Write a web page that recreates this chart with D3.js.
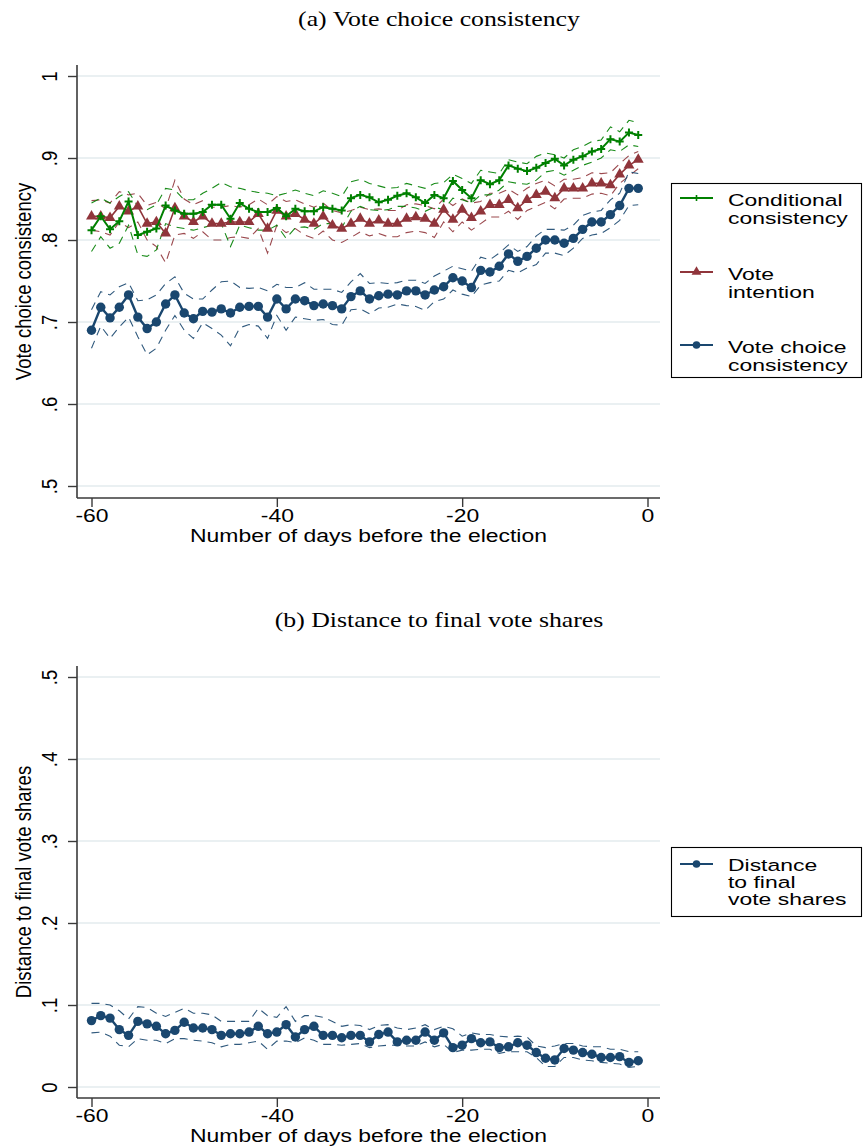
<!DOCTYPE html>
<html><head><meta charset="utf-8">
<script src="https://cdn.jsdelivr.net/npm/d3@7"></script>
<style>body{margin:0;background:#fff} svg{display:block}</style>
</head><body>
<svg id="chart" width="863" height="1148"></svg>
<script>
// ---------- DATA ----------
const days = [-60,-59,-58,-57,-56,-55,-54,-53,-52,-51,-50,-49,-48,-47,-46,-45,-44,-43,-42,-41,
  -40,-39,-38,-37,-36,-35,-34,-33,-32,-31,-30,-29,-28,-27,-26,-25,-24,-23,-22,-21,
  -20,-19,-18,-17,-16,-15,-14,-13,-12,-11,-10,-9,-8,-7,-6,-5,-4,-3,-2,-1];

// Panel (a)
const voteChoice = [.690,.718,.705,.718,.733,.706,.692,.700,.722,.733,.711,.704,.713,.712,.716,.711,.718,.719,.719,.706,
  .728,.716,.728,.726,.720,.722,.720,.716,.731,.738,.728,.732,.734,.733,.738,.738,.733,.739,.743,.754,
  .750,.742,.763,.761,.768,.783,.774,.780,.790,.800,.800,.796,.802,.813,.822,.822,.831,.842,.863,.863];
const voteChoiceLo = [.668,.695,.680,.694,.706,.682,.660,.668,.690,.708,.690,.680,.699,.692,.684,.671,.693,.697,.695,.680,
  .708,.690,.706,.704,.702,.703,.697,.696,.715,.716,.710,.717,.718,.722,.720,.719,.714,.725,.728,.739,
  .734,.731,.745,.748,.750,.763,.760,.766,.770,.784,.784,.781,.790,.802,.806,.808,.815,.824,.842,.843];
const voteChoiceHi = [.715,.737,.733,.743,.748,.726,.727,.733,.747,.755,.735,.728,.728,.739,.749,.750,.742,.741,.742,.738,
  .746,.742,.742,.748,.740,.740,.740,.736,.749,.759,.747,.748,.747,.748,.751,.751,.747,.756,.762,.768,
  .765,.762,.779,.776,.784,.794,.786,.792,.805,.813,.813,.812,.818,.830,.834,.836,.849,.857,.883,.881];

const conditional = [.812,.829,.813,.823,.847,.806,.810,.814,.842,.836,.832,.832,.834,.843,.843,.826,.845,.838,.834,.834,
  .839,.829,.838,.835,.835,.840,.838,.836,.851,.855,.852,.846,.849,.854,.857,.852,.845,.855,.851,.872,
  .861,.851,.873,.868,.873,.891,.887,.884,.888,.894,.899,.891,.898,.902,.908,.911,.923,.920,.931,.928];
const conditionalLo = [.786,.804,.790,.796,.818,.782,.780,.788,.820,.816,.814,.812,.815,.818,.820,.792,.818,.815,.812,.812,
  .818,.802,.815,.816,.813,.820,.820,.815,.835,.841,.837,.836,.837,.841,.841,.839,.835,.840,.837,.851,
  .849,.845,.855,.855,.861,.871,.869,.868,.873,.883,.885,.879,.885,.891,.895,.900,.910,.908,.916,.914];
const conditionalHi = [.845,.851,.845,.853,.859,.841,.837,.843,.863,.861,.849,.849,.857,.863,.870,.865,.863,.860,.858,.857,
  .854,.857,.861,.857,.854,.860,.857,.853,.871,.874,.869,.866,.863,.864,.869,.866,.863,.869,.870,.880,
  .875,.869,.885,.883,.881,.898,.895,.893,.902,.906,.904,.900,.910,.914,.920,.922,.938,.932,.946,.943];

const intention = [.829,.829,.827,.841,.835,.841,.820,.822,.808,.839,.829,.822,.829,.820,.820,.822,.822,.822,.832,.814,
  .836,.829,.832,.825,.820,.829,.818,.814,.820,.826,.820,.824,.820,.820,.826,.828,.826,.820,.837,.825,
  .837,.827,.835,.843,.843,.849,.839,.849,.855,.859,.851,.863,.863,.863,.869,.869,.867,.880,.891,.898];
const intentionLo = [.812,.810,.806,.822,.815,.822,.800,.792,.772,.806,.808,.802,.810,.800,.800,.803,.804,.802,.814,.784,
  .818,.809,.814,.806,.802,.811,.800,.797,.803,.810,.805,.808,.804,.804,.809,.811,.809,.803,.822,.810,
  .822,.812,.820,.828,.828,.835,.825,.836,.841,.846,.838,.850,.851,.851,.856,.857,.854,.869,.878,.887];
const intentionHi = [.848,.849,.845,.859,.855,.857,.842,.846,.838,.873,.850,.843,.848,.840,.840,.842,.840,.843,.850,.843,
  .853,.847,.849,.844,.840,.845,.836,.833,.836,.840,.837,.838,.836,.836,.843,.844,.842,.838,.850,.842,
  .850,.845,.847,.857,.857,.862,.855,.863,.869,.873,.866,.874,.874,.876,.882,.881,.882,.893,.903,.908];

// Panel (b)
const distance = [.081,.087,.084,.070,.063,.080,.077,.074,.065,.069,.079,.072,.072,.070,.063,.065,.065,.067,.074,.065,
  .067,.076,.061,.070,.074,.063,.063,.060,.063,.063,.055,.064,.067,.055,.057,.057,.067,.057,.066,.048,
  .051,.059,.054,.055,.048,.049,.054,.051,.042,.035,.033,.047,.045,.042,.040,.036,.036,.037,.030,.032];
const distanceLo = [.066,.067,.062,.051,.049,.059,.057,.057,.053,.059,.059,.057,.056,.054,.049,.052,.052,.054,.056,.046,
  .056,.056,.054,.060,.057,.052,.052,.051,.052,.053,.048,.050,.051,.051,.050,.050,.055,.049,.052,.042,
  .045,.045,.046,.046,.041,.043,.043,.043,.036,.025,.025,.036,.036,.033,.032,.030,.029,.028,.024,.025];
const distanceHi = [.102,.102,.100,.093,.083,.098,.097,.090,.086,.091,.096,.090,.090,.088,.080,.080,.080,.080,.096,.087,
  .085,.098,.080,.087,.087,.085,.080,.074,.076,.075,.070,.075,.076,.072,.070,.072,.076,.070,.074,.071,
  .062,.066,.064,.064,.062,.061,.062,.061,.050,.048,.050,.053,.053,.050,.049,.049,.046,.046,.043,.043];

const xTicks = [-60,-40,-20,0];
const xTickLabels = ["-60","-40","-20","0"];
const yTicksA = [.5,.6,.7,.8,.9,1];
const yTickLabelsA = [".5",".6",".7",".8",".9","1"];
const yTicksB = [0,.1,.2,.3,.4,.5];
const yTickLabelsB = ["0",".1",".2",".3",".4",".5"];

// ---------- STYLE ----------
const SX = 1.24;
const SANS = "'Liberation Sans', Arial, Helvetica, sans-serif";
const SERIF = "'Liberation Serif', 'Times New Roman', serif";
const FS = 18.5;
const LEG_FS = 16.5, LEG_SX = 1.39;
const C_GREEN = "#008000", C_RED = "#90353b", C_BLUE = "#1a476f";
const AXIS_C = "#3a3a3a";

const svg = d3.select("#chart");

function sText(g, x, y, str, o = {}) {
  const sx = o.sx || SX;
  return g.append("text")
    .attr("transform", `translate(${x},${y}) scale(${sx},1)` + (o.rotate ? " rotate(-90)" : ""))
    .attr("text-anchor", o.anchor || "middle")
    .attr("font-family", o.family || SANS)
    .attr("font-size", o.size || FS)
    .attr("fill", "#000")
    .text(str);
}

function plusPath(s) { return `M${-s},0H${s}M0,${-s}V${s}`; }

function drawMarkers(g, x, y, vals, kind, color) {
  const pts = days.map((d, i) => ({ d, v: vals[i] }));
  if (kind === "circle") {
    g.selectAll(null).data(pts).join("circle")
      .attr("cx", p => x(p.d)).attr("cy", p => y(p.v)).attr("r", 4.7).attr("fill", color);
  } else if (kind === "triangle") {
    const sym = d3.symbol(d3.symbolTriangle, 52);
    g.selectAll(null).data(pts).join("path")
      .attr("d", sym).attr("transform", p => `translate(${x(p.d)},${y(p.v)})`).attr("fill", color);
  } else {
    g.selectAll(null).data(pts).join("path")
      .attr("d", plusPath(4)).attr("transform", p => `translate(${x(p.d)},${y(p.v)})`)
      .attr("stroke", color).attr("stroke-width", 2).attr("fill", "none");
  }
}

function panel(cfg) {
  const g = svg.append("g");
  const x = d3.scaleLinear().domain([-60, 0]).range([91.5, 647.5]);
  const y = d3.scaleLinear().domain(cfg.yDomain).range(cfg.yRange);
  const left = 77, right = 660;

  // title
  sText(g, 439, cfg.titleY, cfg.title, { family: SERIF, size: 21.5, sx: 1.2 });

  // gridlines
  g.selectAll(null).data(cfg.yTicks).join("line")
    .attr("x1", left).attr("x2", right)
    .attr("y1", d => y(d)).attr("y2", d => y(d))
    .attr("stroke", "#e3ebee").attr("stroke-width", 1.3);

  // y axis
  const ya = g.append("g").attr("transform", `translate(${left},0)`)
    .call(d3.axisLeft(y).tickValues(cfg.yTicks).tickFormat((d, i) => cfg.yLabels[i]).tickSize(9));
  ya.select(".domain").remove();
  ya.selectAll(".tick line").attr("stroke", AXIS_C).attr("stroke-width", 1.4);
  ya.selectAll(".tick text")
    .attr("x", null).attr("dy", null)
    .attr("transform", `translate(-20,0) scale(${SX},1) rotate(-90)`)
    .attr("text-anchor", "middle").attr("fill", "#000")
    .attr("font-family", SANS).attr("font-size", FS);
  g.append("line").attr("x1", left).attr("x2", left)
    .attr("y1", cfg.axisTop).attr("y2", cfg.axisBottom)
    .attr("stroke", AXIS_C).attr("stroke-width", 1.6);

  // x axis
  const xa = g.append("g").attr("transform", `translate(0,${cfg.axisBottom})`)
    .call(d3.axisBottom(x).tickValues(xTicks).tickFormat((d, i) => xTickLabels[i]).tickSize(9));
  xa.select(".domain").remove();
  xa.selectAll(".tick line").attr("stroke", AXIS_C).attr("stroke-width", 1.4);
  xa.selectAll(".tick text")
    .attr("y", null).attr("dy", null)
    .attr("transform", `translate(0,24) scale(${SX},1)`)
    .attr("text-anchor", "middle").attr("fill", "#000")
    .attr("font-family", SANS).attr("font-size", FS);
  g.append("line").attr("x1", left).attr("x2", right)
    .attr("y1", cfg.axisBottom).attr("y2", cfg.axisBottom)
    .attr("stroke", AXIS_C).attr("stroke-width", 1.6);

  // axis titles
  sText(g, 368.5, cfg.axisBottom + 44, "Number of days before the election");
  sText(g, 31, (cfg.axisTop + cfg.axisBottom) / 2, cfg.yTitle, { rotate: true });

  const line = d3.line().x((v, i) => x(days[i])).y(v => y(v));
  const plot = g.append("g");
  // CI dashed lines
  cfg.series.forEach(s => {
    [s.lo, s.hi].forEach(arr => {
      plot.append("path").attr("d", line(arr)).attr("fill", "none")
        .attr("stroke", s.color).attr("stroke-width", 1.1).attr("stroke-dasharray", "8,6")
        .attr("opacity", 0.9);
    });
  });
  // main lines and markers
  cfg.series.forEach(s => {
    plot.append("path").attr("d", line(s.vals)).attr("fill", "none")
      .attr("stroke", s.color).attr("stroke-width", s.lw);
    drawMarkers(plot, x, y, s.vals, s.marker, s.color);
  });

  // legend
  const L = cfg.legend;
  g.append("rect").attr("x", 671.5).attr("y", L.top + 0.5).attr("width", 190).attr("height", L.height)
    .attr("fill", "#fff").attr("stroke", "#000").attr("stroke-width", 1.1);
  L.items.forEach(it => {
    g.append("line").attr("x1", 680).attr("x2", 713).attr("y1", it.symY).attr("y2", it.symY)
      .attr("stroke", it.color).attr("stroke-width", 1.8);
    if (it.marker === "circle") {
      g.append("circle").attr("cx", 696.5).attr("cy", it.symY).attr("r", 3.8).attr("fill", it.color);
    } else if (it.marker === "triangle") {
      g.append("path").attr("d", d3.symbol(d3.symbolTriangle, 42)())
        .attr("transform", `translate(696.5,${it.symY})`).attr("fill", it.color);
    } else {
      g.append("path").attr("d", plusPath(3)).attr("transform", `translate(696.5,${it.symY})`)
        .attr("stroke", it.color).attr("stroke-width", 1.6);
    }
    it.lines.forEach((t, k) => sText(g, 728, it.baseY + k * L.lineH, t,
      { anchor: "start", size: LEG_FS, sx: LEG_SX }));
  });
}

panel({
  title: "(a) Vote choice consistency", titleY: 26,
  yDomain: [0.5, 1], yRange: [486, 76], yTicks: yTicksA, yLabels: yTickLabelsA,
  axisTop: 65, axisBottom: 498, yTitle: "Vote choice consistency",
  series: [
    { vals: intention, lo: intentionLo, hi: intentionHi, color: C_RED, marker: "triangle", lw: 1.6 },
    { vals: conditional, lo: conditionalLo, hi: conditionalHi, color: C_GREEN, marker: "plus", lw: 2 },
    { vals: voteChoice, lo: voteChoiceLo, hi: voteChoiceHi, color: C_BLUE, marker: "circle", lw: 2.4 }
  ],
  legend: { top: 183, height: 194, lineH: 18, items: [
    { color: C_GREEN, marker: "plus", symY: 198, baseY: 206, lines: ["Conditional", "consistency"] },
    { color: C_RED, marker: "triangle", symY: 272, baseY: 280, lines: ["Vote", "intention"] },
    { color: C_BLUE, marker: "circle", symY: 345, baseY: 353, lines: ["Vote choice", "consistency"] }
  ]}
});

panel({
  title: "(b) Distance to final vote shares", titleY: 627,
  yDomain: [0, 0.5], yRange: [1087, 677], yTicks: yTicksB, yLabels: yTickLabelsB,
  axisTop: 666, axisBottom: 1098, yTitle: "Distance to final vote shares",
  series: [
    { vals: distance, lo: distanceLo, hi: distanceHi, color: C_BLUE, marker: "circle", lw: 2.4 }
  ],
  legend: { top: 847, height: 69, lineH: 17, items: [
    { color: C_BLUE, marker: "circle", symY: 864, baseY: 871, lines: ["Distance", "to final", "vote shares"] }
  ]}
});
</script>
</body></html>
